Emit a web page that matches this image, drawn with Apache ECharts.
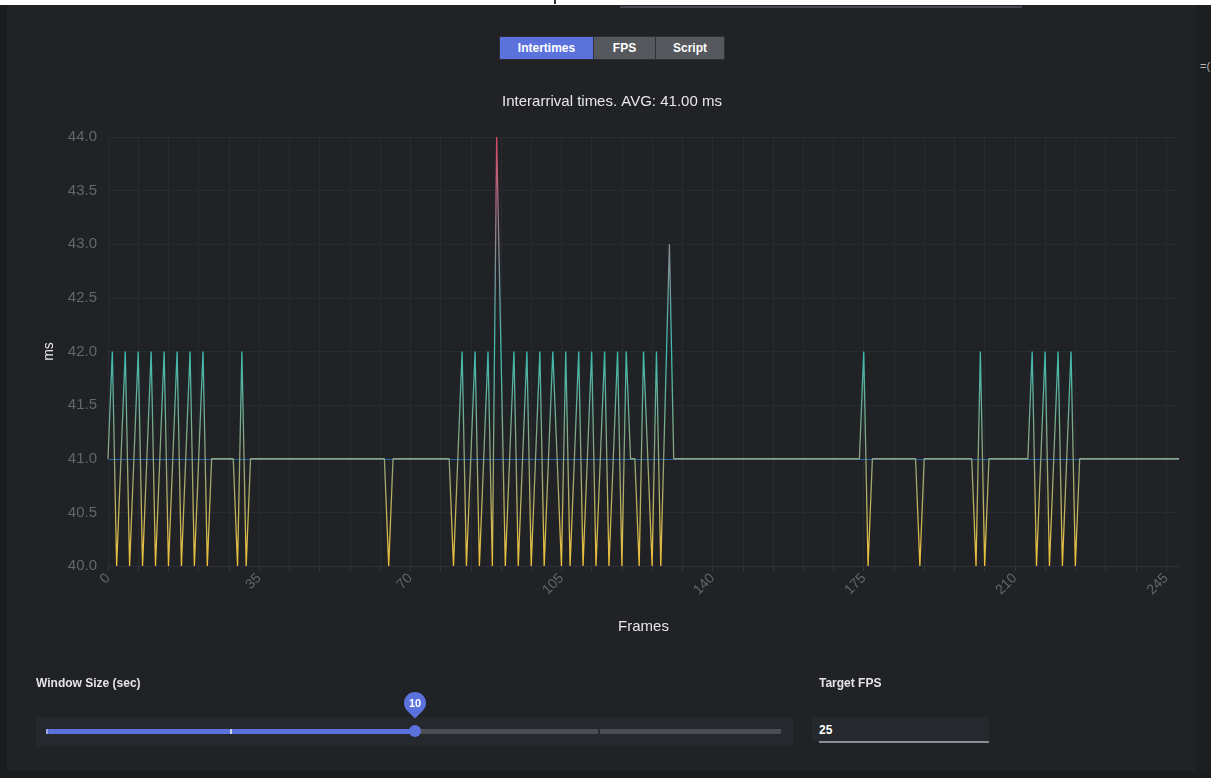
<!DOCTYPE html>
<html>
<head>
<meta charset="utf-8">
<title>Interarrival times</title>
<script src="https://cdn.jsdelivr.net/npm/echarts@6/dist/echarts.min.js"></script>
<style>
  html, body { margin: 0; padding: 0; width: 1211px; height: 778px; overflow: hidden;
    background: #202226; font-family: "Liberation Sans", Arial, sans-serif; }
  .abs { position: absolute; }
  #topstrip { left: 0; top: 0; width: 1211px; height: 5px; background: #ffffff; }
  #topline { left: 620px; top: 6px; width: 402px; height: 2px; background: #45484d; }
  #caret { left: 554px; top: 0; width: 2px; height: 4px; background: #333; }
  #leftband { left: 0; top: 5px; width: 7px; height: 773px; background: #191b1e; }
  #rightband { left: 1196px; top: 5px; width: 15px; height: 773px; background: #1c1e22; }
  #bottomband { left: 0; top: 771px; width: 1211px; height: 7px; background: #1a1c1f; }
  #rightclip { left: 1200px; top: 60px; color: #bbbbbb; font-size: 11px; }
  #chart { left: 0; top: 0; width: 1211px; height: 778px; }
  #tabs { left: 499px; top: 36px; height: 24px; display: flex; border: 1px solid #2b2d31; box-sizing: border-box; }
  #tabs div { height: 22px; line-height: 22px; color: #ffffff; font-size: 12px; font-weight: bold;
    text-align: center; background: #55585d; border-left: 1px solid #2f3136; }
  #tabs div.on { background: #5b72dd; border-left: none; }
  .lbl { color: #e4e4e4; font-size: 12px; font-weight: bold; }
  #sliderbox { left: 36px; top: 717px; width: 757px; height: 29px; background: #25282c; }
  #rail { left: 47px; top: 729px; width: 736px; height: 5px; border-radius: 3px; background: #4a4d52; }
  #fill { left: 47px; top: 729px; width: 368px; height: 5px; border-radius: 3px; background: #5b72dd; }
  .mark { width: 2px; height: 5px; top: 729px; background: #2a2c30; }
  #thumb { left: 409px; top: 725px; width: 12px; height: 12px; border-radius: 50%; background: #5b72dd; }
  #bubble { left: 404px; top: 692px; width: 22px; height: 22px; border-radius: 50% 50% 50% 0;
    background: #5b72dd; transform: rotate(-45deg); }
  #bubbletxt { left: 404px; top: 692px; width: 22px; height: 22px; line-height: 22px; text-align: center;
    color: #ffffff; font-size: 11px; font-weight: bold; }
  #inputbox { left: 812px; top: 717px; width: 177px; height: 25px; background: #25282c; }
  #inputtxt { left: 819px; top: 723px; color: #ffffff; font-size: 12px; font-weight: bold; }
  #underline { left: 819px; top: 741px; width: 170px; height: 2px; background: #8b8e93; }
</style>
</head>
<body>
<div id="topstrip" class="abs"></div>
<div id="topline" class="abs"></div>
<div id="caret" class="abs"></div>
<div id="leftband" class="abs"></div>
<div id="rightband" class="abs"></div>
<div id="bottomband" class="abs"></div>
<div id="rightclip" class="abs">=(</div>

<div id="chart" class="abs"></div>

<div id="tabs" class="abs">
  <div class="on" style="width:93px">Intertimes</div>
  <div style="width:61px">FPS</div>
  <div style="width:68px">Script</div>
</div>

<div class="abs lbl" style="left:36px;top:676px">Window Size (sec)</div>
<div id="sliderbox" class="abs"></div>
<div id="rail" class="abs"></div>
<div id="fill" class="abs"></div>
<div class="abs mark" style="left:46px;background:#9aa6e8"></div>
<div class="abs mark" style="left:230px;background:#c9cff2"></div>
<div class="abs mark" style="left:598px"></div>
<div class="abs mark" style="left:781px"></div>
<div id="thumb" class="abs"></div>
<div id="bubble" class="abs"></div>
<div id="bubbletxt" class="abs">10</div>

<div class="abs lbl" style="left:819px;top:676px">Target FPS</div>
<div id="inputbox" class="abs"></div>
<div id="inputtxt" class="abs">25</div>
<div id="underline" class="abs"></div>

<script>
// Interarrival time of each received frame, in milliseconds
const intertimes = [
  41, 42, 40, 41, 42, 40, 41, 42, 40, 41,
  42, 40, 41, 42, 40, 41, 42, 40, 41, 42,
  40, 41, 42, 40, 41, 41, 41, 41, 41, 41,
  40, 42, 40, 41, 41, 41, 41, 41, 41, 41,
  41, 41, 41, 41, 41, 41, 41, 41, 41, 41,
  41, 41, 41, 41, 41, 41, 41, 41, 41, 41,
  41, 41, 41, 41, 41, 40, 41, 41, 41, 41,
  41, 41, 41, 41, 41, 41, 41, 41, 41, 41,
  40, 41, 42, 40, 41, 42, 40, 41, 42, 40,
  44, 42, 40, 41, 42, 40, 41, 42, 40, 41,
  42, 40, 41, 42, 41, 40, 42, 40, 41, 42,
  40, 41, 42, 40, 41, 42, 40, 41, 42, 40,
  42, 41, 41, 40, 42, 41, 40, 42, 40, 41.5,
  43, 41, 41, 41, 41, 41, 41, 41, 41, 41,
  41, 41, 41, 41, 41, 41, 41, 41, 41, 41,
  41, 41, 41, 41, 41, 41, 41, 41, 41, 41,
  41, 41, 41, 41, 41, 41, 41, 41, 41, 41,
  41, 41, 41, 41, 41, 42, 40, 41, 41, 41,
  41, 41, 41, 41, 41, 41, 41, 41, 40, 41,
  41, 41, 41, 41, 41, 41, 41, 41, 41, 41,
  41, 40, 42, 40, 41, 41, 41, 41, 41, 41,
  41, 41, 41, 41, 42, 40, 41, 42, 40, 41,
  42, 40, 41, 42, 40, 41, 41, 41, 41, 41,
  41, 41, 41, 41, 41, 41, 41, 41, 41, 41,
  41, 41, 41, 41, 41, 41, 41, 41, 41
];

// Frame numbers along the x axis
const frames = intertimes.map((_, i) => String(i));

// Colour stops for the value ramp, 40 ms .. 44 ms
const rampColors = ['#f0c13a', '#93a37a', '#3dbbb0', '#8b8891', '#d9476a'];

const avg = intertimes.reduce((a, b) => a + b, 0) / intertimes.length;

const font = 'Liberation Sans, Arial, sans-serif';
const chart = echarts.init(document.getElementById('chart'), null, { renderer: 'canvas' });

chart.setOption({
  backgroundColor: 'transparent',
  animation: false,
  title: {
    text: 'Interarrival times. AVG: ' + avg.toFixed(2) + ' ms',
    left: 607,
    textAlign: 'center',
    top: 89,
    textStyle: { color: '#e8e8e8', fontSize: 15, fontWeight: 'normal', fontFamily: font }
  },
  grid: { left: 108, right: 32, top: 137, bottom: 212 },
  visualMap: {
    type: 'continuous',
    show: false,
    seriesIndex: 0,
    dimension: 1,
    min: 40,
    max: 44,
    inRange: { color: rampColors }
  },
  xAxis: {
    type: 'category',
    data: frames,
    boundaryGap: false,
    name: 'Frames',
    nameLocation: 'middle',
    nameGap: 53,
    nameTextStyle: { color: '#e6e6e6', fontSize: 15, fontFamily: font },
    axisLine: { lineStyle: { color: '#2d3036' } },
    axisTick: { show: true, interval: 6, length: 5, lineStyle: { color: '#34373c' } },
    axisLabel: { interval: 34, rotate: 45, color: '#63666c', fontSize: 14, margin: 10, fontFamily: font },
    splitLine: { show: true, interval: 6, lineStyle: { color: '#282b30', width: 1 } }
  },
  yAxis: {
    type: 'value',
    min: 40,
    max: 44,
    interval: 0.5,
    name: 'ms',
    nameLocation: 'middle',
    nameGap: 52,
    nameTextStyle: { color: '#e6e6e6', fontSize: 14, fontFamily: font },
    axisLine: { show: false },
    axisTick: { show: false },
    axisLabel: { color: '#63666c', fontSize: 15, margin: 11,
      formatter: v => v.toFixed(1), fontFamily: font },
    splitLine: { lineStyle: { color: '#282b30', width: 1 } }
  },
  series: [{
    type: 'line',
    name: 'intertimes',
    data: intertimes,
    showSymbol: false,
    symbol: 'none',
    z: 3,
    lineStyle: { width: 1.3 }
  }, {
    // average reference line, drawn beneath the trace
    type: 'line',
    name: 'average',
    data: [],
    z: 1,
    silent: true,
    markLine: {
      silent: true,
      symbol: 'none',
      z: 1,
      animation: false,
      label: { show: false },
      lineStyle: { color: '#2768a6', width: 1, type: 'solid', opacity: 1 },
      data: [{ yAxis: avg }]
    }
  }]
});
</script>
</body>
</html>
